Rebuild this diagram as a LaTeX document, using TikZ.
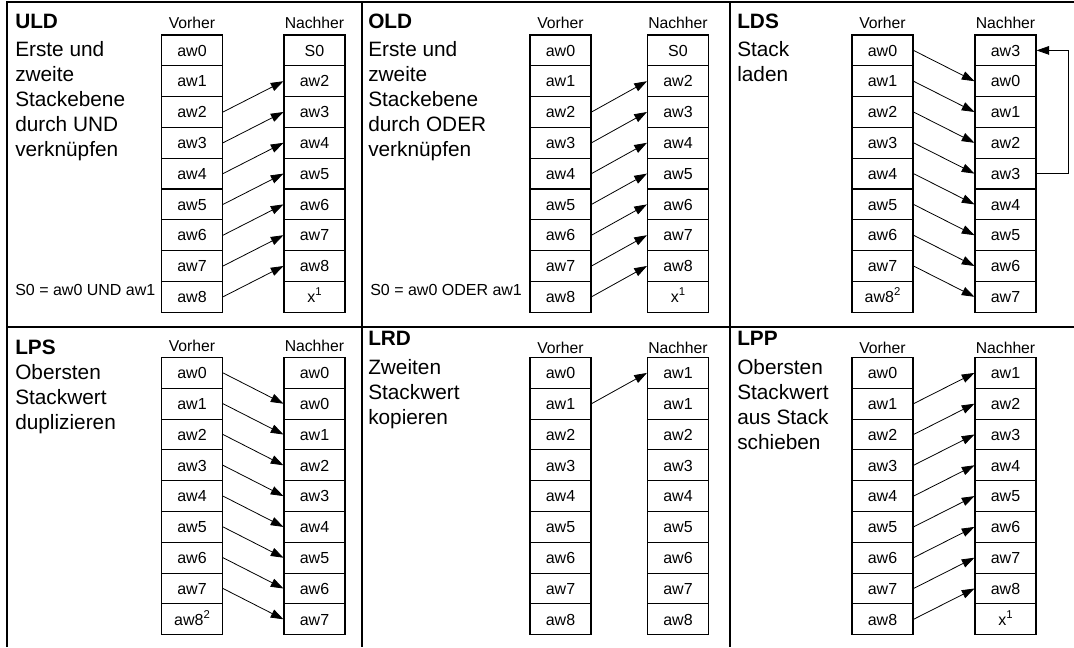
\documentclass[tikz,border=0pt]{standalone}
\usepackage{fontspec}
\setmainfont{Liberation Sans}
\usetikzlibrary{arrows.meta}
\newcommand{\mysup}[1]{\raisebox{0.42em}{\fontsize{8.5}{9}\selectfont #1}}
\newcommand{\stackcol}[4]{%
  \foreach \celltxt [count=\ci from 0] in {#4} {%
    \node[cell] (#1\ci) at (#2,{#3+30.8*\ci+15.4}) {\celltxt};
  }}
\newcommand{\desclines}[4]{%
  \foreach \linetxt [count=\li from 0] in {#3} {%
    \node[desc] (#4\li) at (#1,{#2+25*\li}) {\linetxt};
  }}
\begin{document}
\begin{tikzpicture}[x=0.75pt,y=-0.75pt,
  cell/.style={draw, line width=0.8pt, minimum width=45.75pt, minimum height=23.1pt, inner sep=0pt,
    font=\fontsize{12}{14}\selectfont, text height=8.6pt, text depth=0pt},
  frame/.style={line width=1.5pt},
  arr/.style={line width=0.6pt, -{Triangle[length=9.5pt,width=6.5pt]}},
  ttl/.style={anchor=base west, inner sep=0pt, font=\fontsize{15.6}{18}\selectfont\bfseries},
  desc/.style={anchor=base west, inner sep=0pt, font=\fontsize{15.6}{18}\selectfont},
  colhead/.style={anchor=base, inner sep=0pt, font=\fontsize{11.8}{14}\selectfont},
  formula/.style={anchor=base west, inner sep=0pt, font=\fontsize{12}{14}\selectfont}]
\useasboundingbox (0,0) rectangle (1074,647);

% frame
\draw[frame] (7,647) -- (7,2) -- (1074,2);
\draw[frame] (7,327) -- (1074,327);
\draw[frame] (362,2) -- (362,647);
\draw[frame] (730,2) -- (730,647);

% ---------- Panel 1: ULD
\node[ttl] (t1) at (15,28.5) {ULD};
\desclines{15}{56}{Erste und,zweite,Stackebene,durch UND,verknüpfen}{da}
\node[colhead] (v1) at (192,28) {Vorher};
\node[colhead] (n1) at (314.5,28) {Nachher};
\stackcol{aL}{192}{35}{aw0,aw1,aw2,aw3,aw4,aw5,aw6,aw7,aw8}
\stackcol{aR}{314.5}{35}{S0,aw2,aw3,aw4,aw5,aw6,aw7,aw8,{x\mysup{1}}}
\node[formula] (f1) at (15,295) {S0 = aw0 UND aw1};
\foreach \i in {2,...,8}{\pgfmathtruncatemacro\j{\i-1}\draw[arr] (aL\i.east) -- (aR\j.west);}

% ---------- Panel 2: OLD
\node[ttl] (t2) at (368,28.5) {OLD};
\desclines{368}{56}{Erste und,zweite,Stackebene,durch ODER,verknüpfen}{db}
\node[colhead] (v2) at (560.5,28) {Vorher};
\node[colhead] (n2) at (678,28) {Nachher};
\stackcol{bL}{560.5}{35}{aw0,aw1,aw2,aw3,aw4,aw5,aw6,aw7,aw8}
\stackcol{bR}{678}{35}{S0,aw2,aw3,aw4,aw5,aw6,aw7,aw8,{x\mysup{1}}}
\node[formula] (f2) at (370,295) {S0 = aw0 ODER aw1};
\foreach \i in {2,...,8}{\pgfmathtruncatemacro\j{\i-1}\draw[arr] (bL\i.east) -- (bR\j.west);}

% ---------- Panel 3: LDS
\node[ttl] (t3) at (737,28.5) {LDS};
\desclines{737}{56}{Stack,laden}{dc}
\node[colhead] (v3) at (882.5,28) {Vorher};
\node[colhead] (n3) at (1005.5,28) {Nachher};
\stackcol{cL}{882.5}{35}{aw0,aw1,aw2,aw3,aw4,aw5,aw6,aw7,{aw8\mysup{2}}}
\stackcol{cR}{1005.5}{35}{aw3,aw0,aw1,aw2,aw3,aw4,aw5,aw6,aw7}
\foreach \i in {0,...,7}{\pgfmathtruncatemacro\j{\i+1}\draw[arr] (cL\i.east) -- (cR\j.west);}
\coordinate (cx) at (1068,0);
\draw[arr] (cR4.east) -- (cR4.east -| cx) |- (cR0.east);

% ---------- Panel 4: LPS
\node[ttl] (t4) at (15,354) {LPS};
\desclines{15}{379.5}{Obersten,Stackwert,duplizieren}{dd}
\node[colhead] (v4) at (192,351) {Vorher};
\node[colhead] (n4) at (314.5,351) {Nachher};
\stackcol{dL}{192}{357.5}{aw0,aw1,aw2,aw3,aw4,aw5,aw6,aw7,{aw8\mysup{2}}}
\stackcol{dR}{314.5}{357.5}{aw0,aw0,aw1,aw2,aw3,aw4,aw5,aw6,aw7}
\foreach \i in {0,...,7}{\pgfmathtruncatemacro\j{\i+1}\draw[arr] (dL\i.east) -- (dR\j.west);}

% ---------- Panel 5: LRD
\node[ttl] (t5) at (368,345.5) {LRD};
\desclines{368}{374.5}{Zweiten,Stackwert,kopieren}{de}
\node[colhead] (v5) at (560.5,353) {Vorher};
\node[colhead] (n5) at (678,353) {Nachher};
\stackcol{eL}{560.5}{357.5}{aw0,aw1,aw2,aw3,aw4,aw5,aw6,aw7,aw8}
\stackcol{eR}{678}{357.5}{aw1,aw1,aw2,aw3,aw4,aw5,aw6,aw7,aw8}
\draw[arr] (eL1.east) -- (eR0.west);

% ---------- Panel 6: LPP
\node[ttl] (t6) at (737,345.5) {LPP};
\desclines{737}{374.5}{Obersten,Stackwert,aus Stack,schieben}{df}
\node[colhead] (v6) at (882.5,353) {Vorher};
\node[colhead] (n6) at (1005.5,353) {Nachher};
\stackcol{fL}{882.5}{357.5}{aw0,aw1,aw2,aw3,aw4,aw5,aw6,aw7,aw8}
\stackcol{fR}{1005.5}{357.5}{aw1,aw2,aw3,aw4,aw5,aw6,aw7,aw8,{x\mysup{1}}}
\foreach \i in {1,...,8}{\pgfmathtruncatemacro\j{\i-1}\draw[arr] (fL\i.east) -- (fR\j.west);}
\end{tikzpicture}
\end{document}
